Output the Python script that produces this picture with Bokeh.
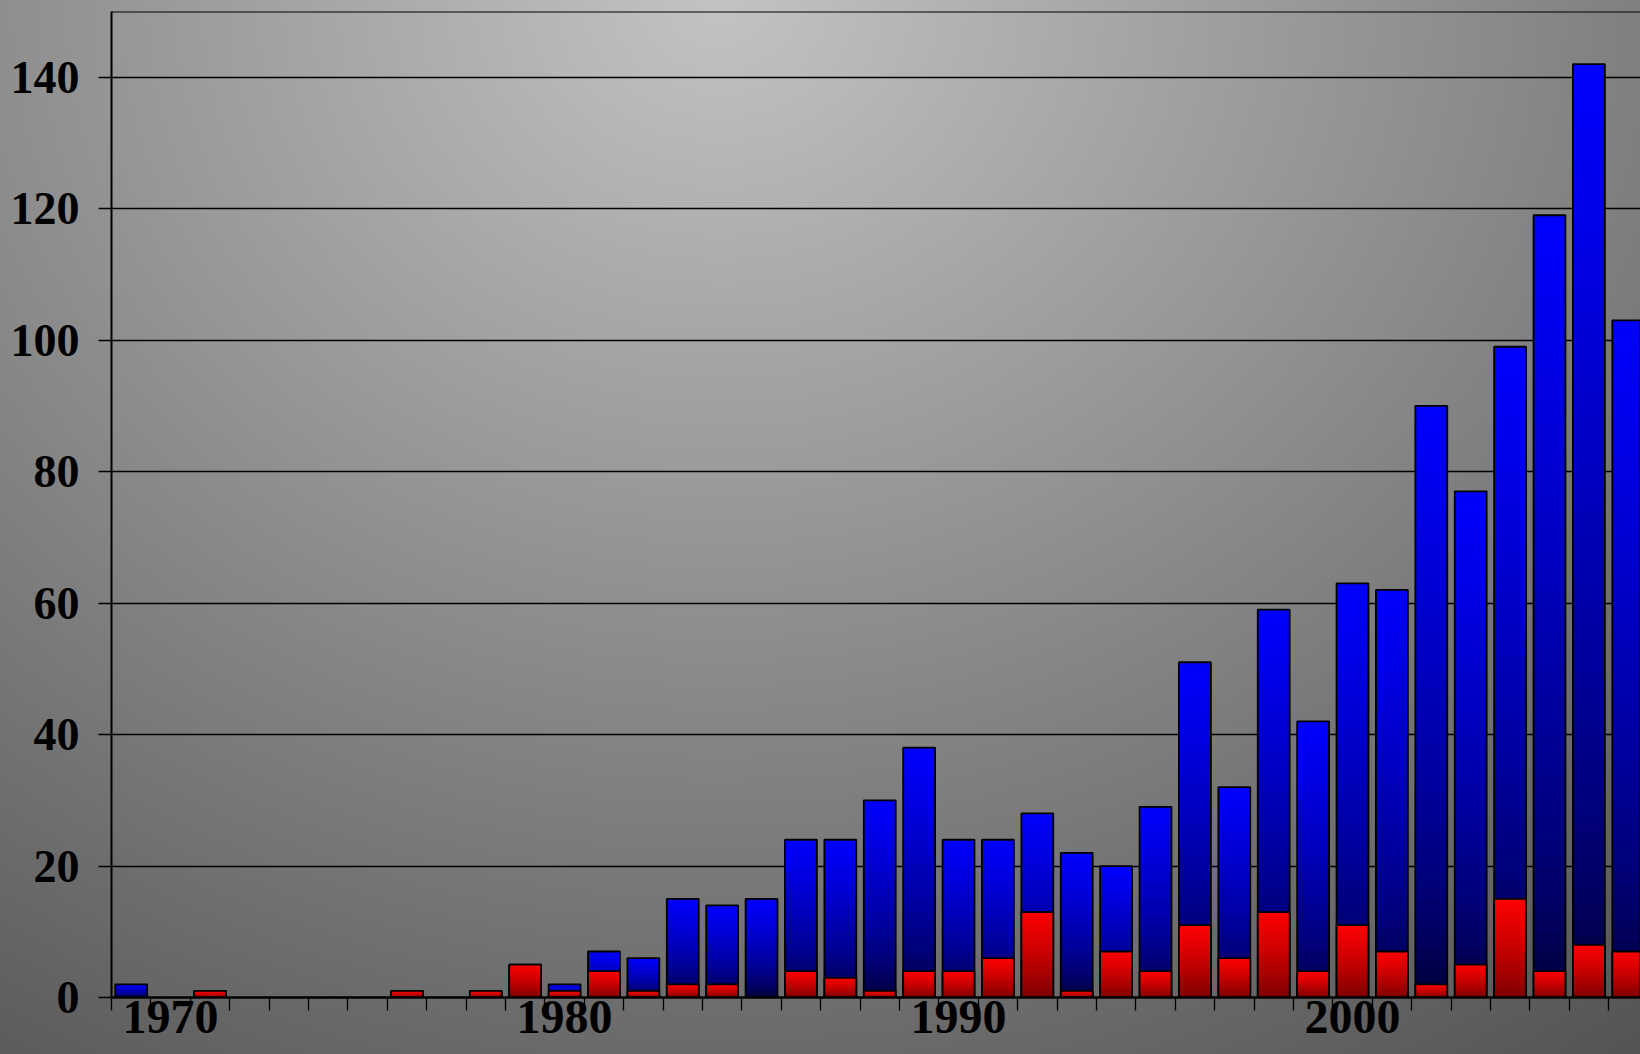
from bokeh.plotting import figure
from bokeh.models import Range1d, FixedTicker, Span
from bokeh.embed import file_html
from bokeh.resources import INLINE

# ---- data ----
years = list(range(1969, 2008))
totals = [2, 0, 1, 0, 0, 0, 0, 1, 0, 1, 5, 2, 7, 6, 15, 14, 15, 24, 24, 30,
          38, 24, 24, 28, 22, 20, 29, 51, 32, 59, 42, 63, 62, 90, 77, 99, 119, 142, 103]
subset = [0, 0, 1, 0, 0, 0, 0, 1, 0, 1, 5, 1, 4, 1, 2, 2, 0, 4, 3, 1,
          4, 4, 6, 13, 1, 7, 4, 11, 6, 13, 4, 11, 7, 2, 5, 15, 4, 8, 7]
y_ticks = [0, 20, 40, 60, 80, 100, 120, 140]
x_label_years = [1970, 1980, 1990, 2000]

W, H = 1640, 1054
FONT = "Liberation Serif"

p = figure(width=W, height=H, output_backend="svg", toolbar_location=None,
           x_range=Range1d(1968.5, 2007.31), y_range=Range1d(0, 150),
           min_border_left=111, min_border_right=0, min_border_top=11,
           min_border_bottom=57)
p.border_fill_color = None
p.background_fill_color = None
p.outline_line_color = None
p.styles = {"background": "radial-gradient(ellipse 1500px 1300px at 720px 0px, #c3c3c3 0%, #555555 100%)"}

N = 60
BAR_W = 0.81


def gradient_bars(vals, top_rgb, bot_rgb, gamma):
    xs, bots, tops, cols = [], [], [], []
    for yr, v in zip(years, vals):
        if v <= 0:
            continue
        for k in range(N):
            f = ((k + 0.5) / N) ** gamma
            c = tuple(int(round(bot_rgb[i] + (top_rgb[i] - bot_rgb[i]) * f)) for i in range(3))
            xs.append(yr)
            bots.append(v * k / N)
            tops.append(v)
            cols.append("#%02x%02x%02x" % c)
    p.vbar(x=xs, bottom=bots, top=tops, width=BAR_W, fill_color=cols, line_color=None)
    nz = [(yr, v) for yr, v in zip(years, vals) if v > 0]
    p.vbar(x=[a for a, _ in nz], bottom=0, top=[b for _, b in nz], width=BAR_W,
           fill_color=None, line_color="black", line_width=1.8)


gradient_bars(totals, (0, 0, 255), (0, 0, 40), 0.6)
gradient_bars(subset, (255, 0, 0), (120, 0, 0), 0.8)

# top border of the plot area
p.add_layout(Span(location=150, dimension="width", line_color="black", line_width=2))

# grid
p.xgrid.grid_line_color = None
p.ygrid.ticker = FixedTicker(ticks=y_ticks)
p.ygrid.grid_line_color = "black"
p.ygrid.grid_line_width = 1.6

# y axis
p.yaxis.ticker = FixedTicker(ticks=y_ticks)
p.yaxis.axis_line_color = "black"
p.yaxis.axis_line_width = 2
p.yaxis.major_tick_out = 13
p.yaxis.major_tick_in = 0
p.yaxis.major_tick_line_color = "black"
p.yaxis.major_tick_line_width = 1.6
p.yaxis.minor_tick_line_color = None
p.yaxis.major_label_standoff = 19
p.yaxis.major_label_text_font = FONT
p.yaxis.major_label_text_font_style = "bold"
p.yaxis.major_label_text_font_size = "46px"
p.yaxis.major_label_text_color = "black"

# x axis
p.xaxis.ticker = FixedTicker(ticks=x_label_years,
                             minor_ticks=[y - 0.5 for y in years] + [years[-1] + 0.5])
p.xaxis.axis_line_color = "black"
p.xaxis.axis_line_width = 2.5
p.xaxis.major_tick_line_color = None
p.xaxis.major_tick_out = 0
p.xaxis.major_tick_in = 0
p.xaxis.minor_tick_out = 13
p.xaxis.minor_tick_in = 0
p.xaxis.minor_tick_line_color = "black"
p.xaxis.minor_tick_line_width = 1.3
p.xaxis.major_label_standoff = -10
p.xaxis.major_label_text_font = FONT
p.xaxis.major_label_text_font_style = "bold"
p.xaxis.major_label_text_font_size = "48px"
p.xaxis.major_label_text_color = "black"

open("out.html", "w").write(file_html(p, INLINE))
